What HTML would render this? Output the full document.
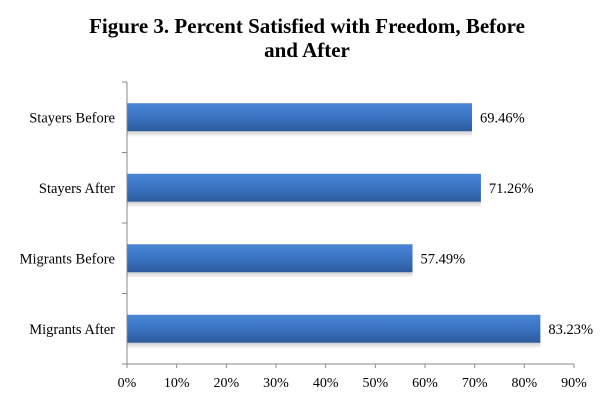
<!DOCTYPE html>
<html><head><meta charset="utf-8"><style>
body{margin:0;background:#fff;}
svg{display:block;font-family:"Liberation Serif",serif;}
</style></head><body>
<svg id="chart" width="610" height="407">
<defs>
<linearGradient id="bg" x1="0" y1="0" x2="0" y2="1">
<stop offset="0" stop-color="#4a86d4"/><stop offset="0.5" stop-color="#3a73c2"/><stop offset="1" stop-color="#2c5a9c"/>
</linearGradient>
<linearGradient id="sh" x1="0" y1="0" x2="0" y2="1">
<stop offset="0" stop-color="#cfcfcf"/><stop offset="1" stop-color="#ffffff"/>
</linearGradient>
</defs>
<text x="307" y="33" text-anchor="middle" font-size="21" font-weight="bold">Figure 3. Percent Satisfied with  Freedom, Before</text>
<text x="307" y="57" text-anchor="middle" font-size="21" font-weight="bold">and After</text>
<g id="plot"></g>
</svg>
<script>
const categories=["Stayers Before","Stayers After","Migrants Before","Migrants After"];
const values=[69.46,71.26,57.49,83.23];
const ticks=[0,10,20,30,40,50,60,70,80,90];
const NS="http://www.w3.org/2000/svg";
const g=document.getElementById("plot");
const x0=127,x1=574,yTop=82,yBot=364;
const xs=v=>x0+(v/90)*(x1-x0);
const band=(yBot-yTop)/categories.length;
function mk(t,a,txt){const e=document.createElementNS(NS,t);for(const k in a)e.setAttribute(k,a[k]);if(txt!==undefined)e.textContent=txt;g.appendChild(e);return e;}
categories.forEach((c,i)=>{
 const cy=yTop+band*(i+0.5);
 const s=mk("rect",{x:x0,y:cy+14,width:xs(values[i])-x0,height:6,fill:"url(#sh)"});
 
 
 const r=mk("rect",{x:x0,y:cy-14,width:xs(values[i])-x0,height:28,fill:"url(#bg)"});
 
 
 const l=mk("text",{x:xs(values[i])+8,y:cy+5,"font-size":"14.5"},values[i].toFixed(2)+"%");
 
 
 const cl=mk("text",{x:x0-12,y:cy+5,"font-size":"14.5","text-anchor":"end"},c);
 
 
});
for(let i=0;i<=categories.length;i++){const y=yTop+band*i;const t=mk("line",{x1:x0-5,x2:x0,y1:y,y2:y,stroke:"#888"});
 
 }
const ya=mk("line",{x1:x0,x2:x0,y1:yTop,y2:yBot,stroke:"#888"});


const xa=mk("line",{x1:x0,x2:x1,y1:yBot,y2:yBot,stroke:"#888"});


ticks.forEach(v=>{
 const t=mk("line",{x1:xs(v),x2:xs(v),y1:yBot,y2:yBot+4,stroke:"#888"});
 
 
 const l=mk("text",{x:xs(v),y:yBot+23,"font-size":"14","text-anchor":"middle"},v+"%");
 
 
});
</script>
</body></html>
